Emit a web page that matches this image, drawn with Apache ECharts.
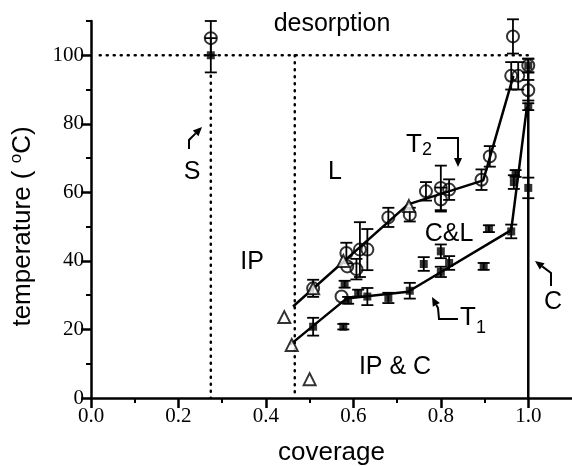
<!DOCTYPE html>
<html>
<head>
<meta charset="utf-8">
<title>coverage vs temperature</title>
<script src="https://cdn.jsdelivr.net/npm/echarts@6/dist/echarts.min.js"></script>
<style>
html, body { margin: 0; padding: 0; background: #fff; }
#chart { width: 572px; height: 466px; }
</style>
</head>
<body>
<div id="chart"></div>
<script>
// ticks
var xTicks = [0, 0.2, 0.4, 0.6, 0.8, 1.0];
var xMinorTicks = [0.1, 0.3, 0.5, 0.7, 0.9];
var yTicks = [0, 20, 40, 60, 80, 100];
var yMinorTicks = [10, 30, 50, 70, 90, 110];

// open circles: [coverage, temperature, error]
var openCircles = [
	[0.274, 105, 5], [0.508, 32, 2.5], [0.584, 42.3, 3], [0.573, 29.6, 0],
	[0.586, 38.4, 0], [0.607, 37.6, 3], [0.615, 43.3, 8], [0.632, 43.3, 6],
	[0.68, 52.7, 2.8], [0.729, 53.5, 2], [0.766, 60.3, 2.7], [0.80, 61.3, 6.5],
	[0.819, 60.8, 3], [0.80, 57.9, 3.5], [0.893, 63.7, 3], [0.912, 70.5, 3],
	[0.965, 105.5, 5], [0.961, 94, 4], [0.977, 94, 4], [1.0, 97, 2], [1.0, 89.8, 3]
];
// filled squares: [coverage, temperature, error]
var filledSquares = [
	[0.274, 100, 5], [0.508, 20.8, 2.6], [0.577, 20.8, 0.8], [0.58, 33.2, 1],
	[0.588, 28.5, 1], [0.611, 30.6, 1], [0.632, 29.6, 2.5], [0.68, 29.2, 1.5],
	[0.729, 31.3, 2.3], [0.761, 39.1, 2], [0.80, 42.8, 2], [0.819, 39.4, 2],
	[0.80, 36.8, 1.5], [0.898, 38.4, 1], [0.91, 49.4, 1], [0.961, 48.6, 2],
	[0.967, 63, 2], [0.971, 65.5, 1], [1.0, 61.3, 3], [1.0, 85, 1], [1.0, 97, 2]
];
// open triangles
var openTriangles = [
	[0.442, 23.6], [0.459, 15.5], [0.50, 5.5], [0.508, 32], [0.577, 40], [0.727, 56]
];
// guide lines
var t2Line = [[0.462, 26.7], [0.725, 56.5], [0.897, 63.5], [0.966, 94]];
var t1Line = [[0.455, 15.5], [0.584, 29], [0.725, 31], [0.961, 49], [0.997, 85]];
var cLine = [[1.0, 0], [1.0, 97]];
var desorptionLine = [[0.02, 100], [1.0, 100]];
var sLine = [[0.274, 94], [0.274, 0]];
var ipLine = [[0.466, 100], [0.466, 0]];

var myChart = echarts.init(document.getElementById('chart'));

function errorBar(params, api) {
	var x = api.value(0), y = api.value(1), e = api.value(2);
	if (!e) return null;
	var top = api.coord([x, y + e]);
	var bot = api.coord([x, y - e]);
	var w = 6;
	var st = { stroke: '#000', lineWidth: 1.8 };
	return {
		type: 'group',
		children: [
			{ type: 'line', shape: { x1: top[0], y1: top[1], x2: bot[0], y2: bot[1] }, style: st },
			{ type: 'line', shape: { x1: top[0] - w, y1: top[1], x2: top[0] + w, y2: top[1] }, style: st },
			{ type: 'line', shape: { x1: bot[0] - w, y1: bot[1], x2: bot[0] + w, y2: bot[1] }, style: st }
		]
	};
}

function lineSeries(data, dotted) {
	return {
		type: 'line',
		data: data,
		symbol: 'none',
		silent: true,
		lineStyle: dotted
			? { color: '#000', width: 2.5, type: [1, 6], cap: 'round' }
			: { color: '#000', width: 2.5 },
		z: 2
	};
}

// arrow with head at the last point
function arrow(pts) {
	var a = pts[pts.length - 2], b = pts[pts.length - 1];
	var dx = b[0] - a[0], dy = b[1] - a[1];
	var len = Math.sqrt(dx * dx + dy * dy);
	var ux = dx / len, uy = dy / len;
	var L = 9, W = 4;
	var bx = b[0] - ux * L, by = b[1] - uy * L;
	return [
		{ type: 'polyline', shape: { points: pts.slice(0, -1).concat([[bx, by]]) }, style: { stroke: '#000', lineWidth: 2, fill: null } },
		{ type: 'polygon', shape: { points: [b, [bx - uy * W, by + ux * W], [bx + uy * W, by - ux * W]] }, style: { fill: '#000' } }
	];
}

function label(text, x, y, size) {
	return {
		type: 'text', x: x, y: y,
		style: { text: text, font: (size || 25) + 'px "Liberation Sans", Arial, sans-serif', fill: '#000', align: 'center', verticalAlign: 'middle' }
	};
}

var axisFont = { fontFamily: '"Liberation Serif", "Times New Roman", serif', fontSize: 21, color: '#000' };

var graphics = [
	label('desorption', 332, 24),
	label('S', 192, 172),
	label('L', 335, 172),
	label('IP', 252, 262),
	label('C&L', 449, 234),
	label('IP & C', 395, 367),
	label('C', 553, 302),
	label('T', 414, 145, 26), label('2', 427, 150, 18),
	label('T', 468, 318, 26), label('1', 481, 328, 18)
];
graphics = graphics
	.concat(arrow([[189, 149], [189, 140], [202, 127]]))
	.concat(arrow([[437, 138], [458, 138], [458, 167]]))
	.concat(arrow([[458, 319], [439, 319], [438, 308], [432, 297]]))
	.concat(arrow([[551, 286], [551, 273], [535, 261]]));

option = {
	animation: false,
	backgroundColor: '#fff',
	grid: { left: 91, right: 0, top: 21, bottom: 68, outerBoundsMode: 'none' },
	xAxis: [{
		type: 'value', min: 0, max: 1.1,
		name: 'coverage', nameLocation: 'middle', nameGap: 42,
		nameTextStyle: { fontFamily: '"Liberation Sans", Arial, sans-serif', fontSize: 26, color: '#000' },
		axisLine: { lineStyle: { color: '#000', width: 2.5 } },
		axisTick: { length: 10, customValues: xTicks, lineStyle: { color: '#000', width: 2.5 } },
		axisLabel: Object.assign({ customValues: xTicks, margin: 8, formatter: function (v) { return v.toFixed(1); } }, axisFont),
		splitLine: { show: false }
	}, {
		type: 'value', min: 0, max: 1.1, position: 'bottom',
		axisLine: { show: false },
		axisTick: { length: 5, customValues: xMinorTicks, lineStyle: { color: '#000', width: 2 } },
		axisLabel: { show: false },
		splitLine: { show: false }
	}],
	yAxis: [{
		type: 'value', min: 0, max: 110,
		name: 'temperature ( {sup|o}C)', nameLocation: 'middle', nameGap: 54, nameRotate: 90,
		nameTextStyle: {
			fontFamily: '"Liberation Sans", Arial, sans-serif', fontSize: 26, color: '#000',
			padding: [0, 34, 0, 0],
			rich: { sup: { fontFamily: '"Liberation Sans", Arial, sans-serif', fontSize: 17, color: '#000', verticalAlign: 'top', padding: [0, 0, 12, 0] } }
		},
		axisLine: { lineStyle: { color: '#000', width: 2.5 } },
		axisTick: { length: 10, customValues: yTicks, lineStyle: { color: '#000', width: 2.5 } },
		axisLabel: Object.assign({ customValues: yTicks, margin: 7 }, axisFont),
		splitLine: { show: false }
	}, {
		type: 'value', min: 0, max: 110, position: 'left',
		axisLine: { show: false },
		axisTick: { length: 5, customValues: yMinorTicks, lineStyle: { color: '#000', width: 2 } },
		axisLabel: { show: false },
		splitLine: { show: false }
	}],
	graphic: graphics,
	series: [
		lineSeries(desorptionLine, true),
		lineSeries(sLine, true),
		lineSeries(ipLine, true),
		lineSeries(cLine, false),
		lineSeries(t2Line, false),
		lineSeries(t1Line, false),
		{ type: 'custom', data: openCircles, encode: { x: 0, y: 1 }, renderItem: errorBar, silent: true, z: 3 },
		{ type: 'custom', data: filledSquares, encode: { x: 0, y: 1 }, renderItem: errorBar, silent: true, z: 3 },
		{
			type: 'scatter', data: openCircles, symbol: 'circle', symbolSize: 12, z: 4,
			itemStyle: { color: 'rgba(0,0,0,0)', borderColor: '#000', borderWidth: 2 }
		},
		{
			type: 'scatter', data: filledSquares, symbol: 'rect', symbolSize: 8, z: 5,
			itemStyle: { color: '#000' }
		},
		{
			type: 'scatter', data: openTriangles, symbol: 'triangle', symbolSize: 12, z: 4,
			itemStyle: { color: '#fff', borderColor: '#000', borderWidth: 2 }
		}
	]
};

myChart.setOption(option);
</script>
</body>
</html>
